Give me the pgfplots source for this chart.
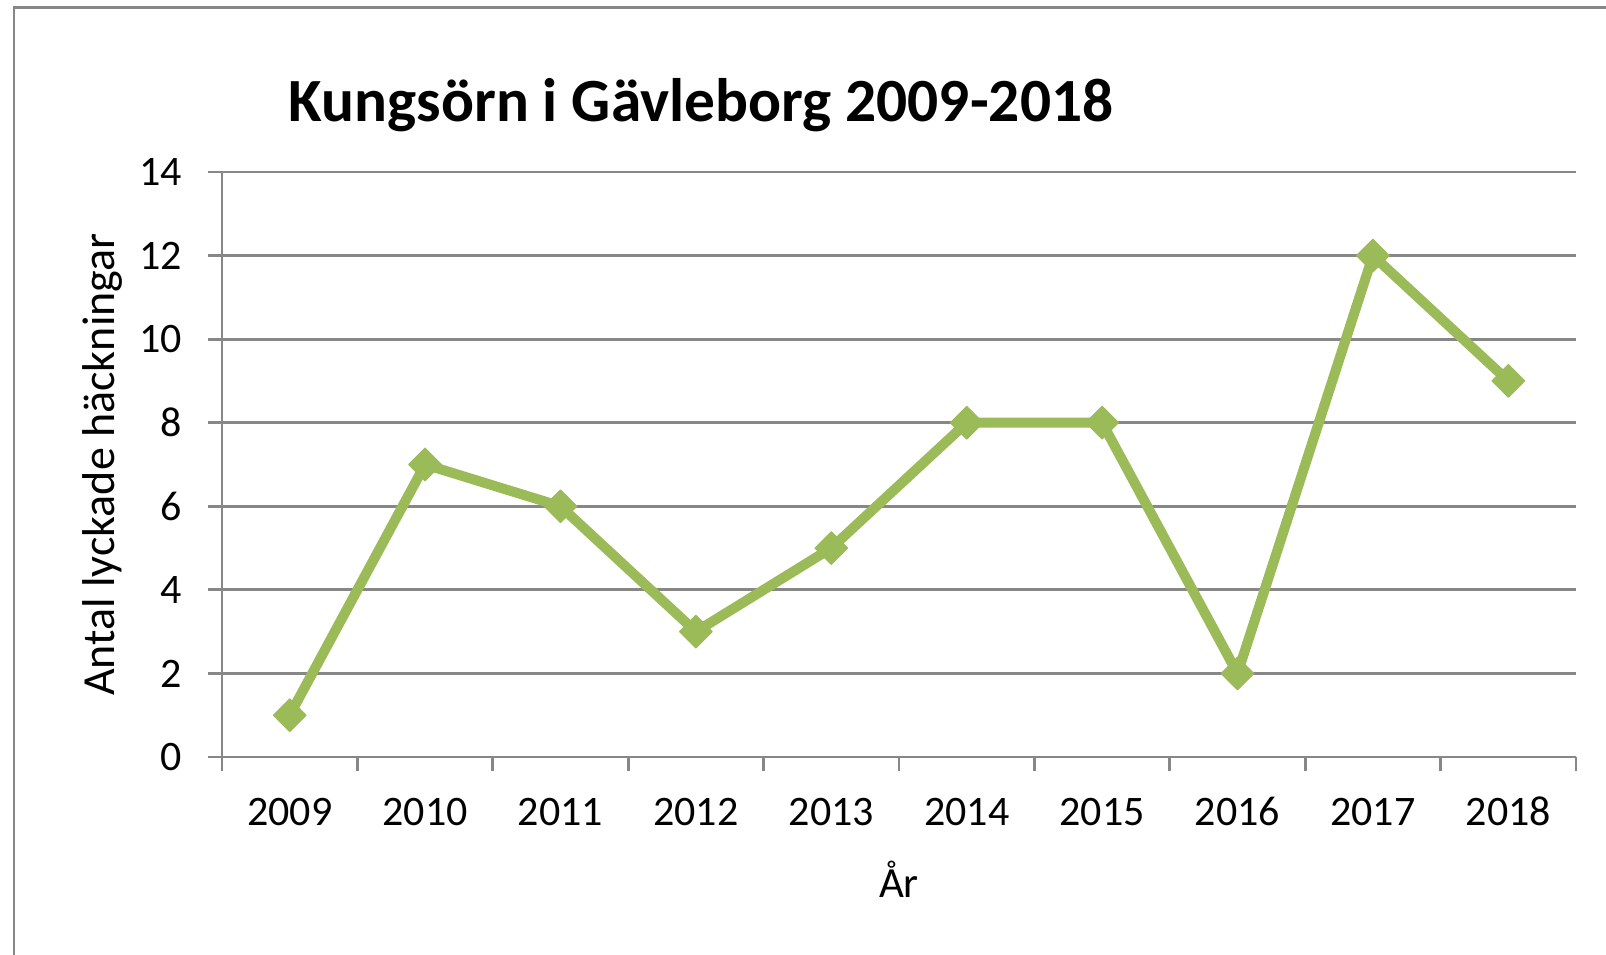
\documentclass[border=0pt]{standalone}
\usepackage{fontspec}
\setmainfont{Carlito}
\usepackage{pgfplots}
\pgfplotsset{compat=1.18}
\definecolor{linegreen}{HTML}{9BBB59}
\definecolor{gridgray}{HTML}{878787}
\begin{document}
\begin{tikzpicture}
\path[use as bounding box, clip] (0,0) rectangle (803pt,477pt);
\fill[white] (0,0) rectangle (803pt,477pt);
\draw[gridgray, line width=1.35pt] (7pt,-20pt) rectangle (830pt,473.25pt);
\begin{axis}[
  at={(111pt,98.5pt)}, anchor=south west,
  scale only axis, width=677pt, height=292.5pt,
  xmin=-0.5, xmax=9.5, ymin=0, ymax=14,
  axis lines*=left,
  axis line style={gridgray, line width=1.4pt, -},
  ytick={0,2,...,14},
  xtick={-0.5,0.5,...,9.5},
  xticklabels={2009,2010,2011,2012,2013,2014,2015,2016,2017,2018},
  x tick label as interval,
  major tick length=7pt,
  tick align=outside,
  tick style={gridgray, line width=1.4pt},
  ymajorgrids, grid style={gridgray, line width=1.4pt},
  /pgf/number format/assume math mode=true,
  ticklabel style={font=\fontsize{21}{25}\selectfont, inner sep=0pt},
  yticklabel style={anchor=east, xshift=-13pt},
  xticklabel style={anchor=base, yshift=-27.3pt},
  title={Kungsörn i Gävleborg 2009-2018},
  title style={at={(axis description cs:0.3538,1.065)}, anchor=base, font=\fontsize{30.7}{35}\selectfont\bfseries, inner sep=0pt},
  xlabel={År},
  xlabel style={at={(axis description cs:0.5,-0.2085)}, anchor=center, font=\fontsize{21.5}{25}\selectfont, inner sep=0pt},
  ylabel={Antal lyckade häckningar},
  ylabel style={at={(axis description cs:-0.0885,0.5)}, anchor=center, rotate=0, font=\fontsize{23}{27}\selectfont, inner sep=0pt},
  clip=false,
]
\addplot[linegreen, line width=5pt, line join=round,
  mark=square*, mark size=5.8pt,
  mark options={rotate=45, fill=linegreen, draw=linegreen, line width=0.5pt}]
  table {
x y
0 1
1 7
2 6
3 3
4 5
5 8
6 8
7 2
8 12
9 9
};
\end{axis}
\end{tikzpicture}
\end{document}
